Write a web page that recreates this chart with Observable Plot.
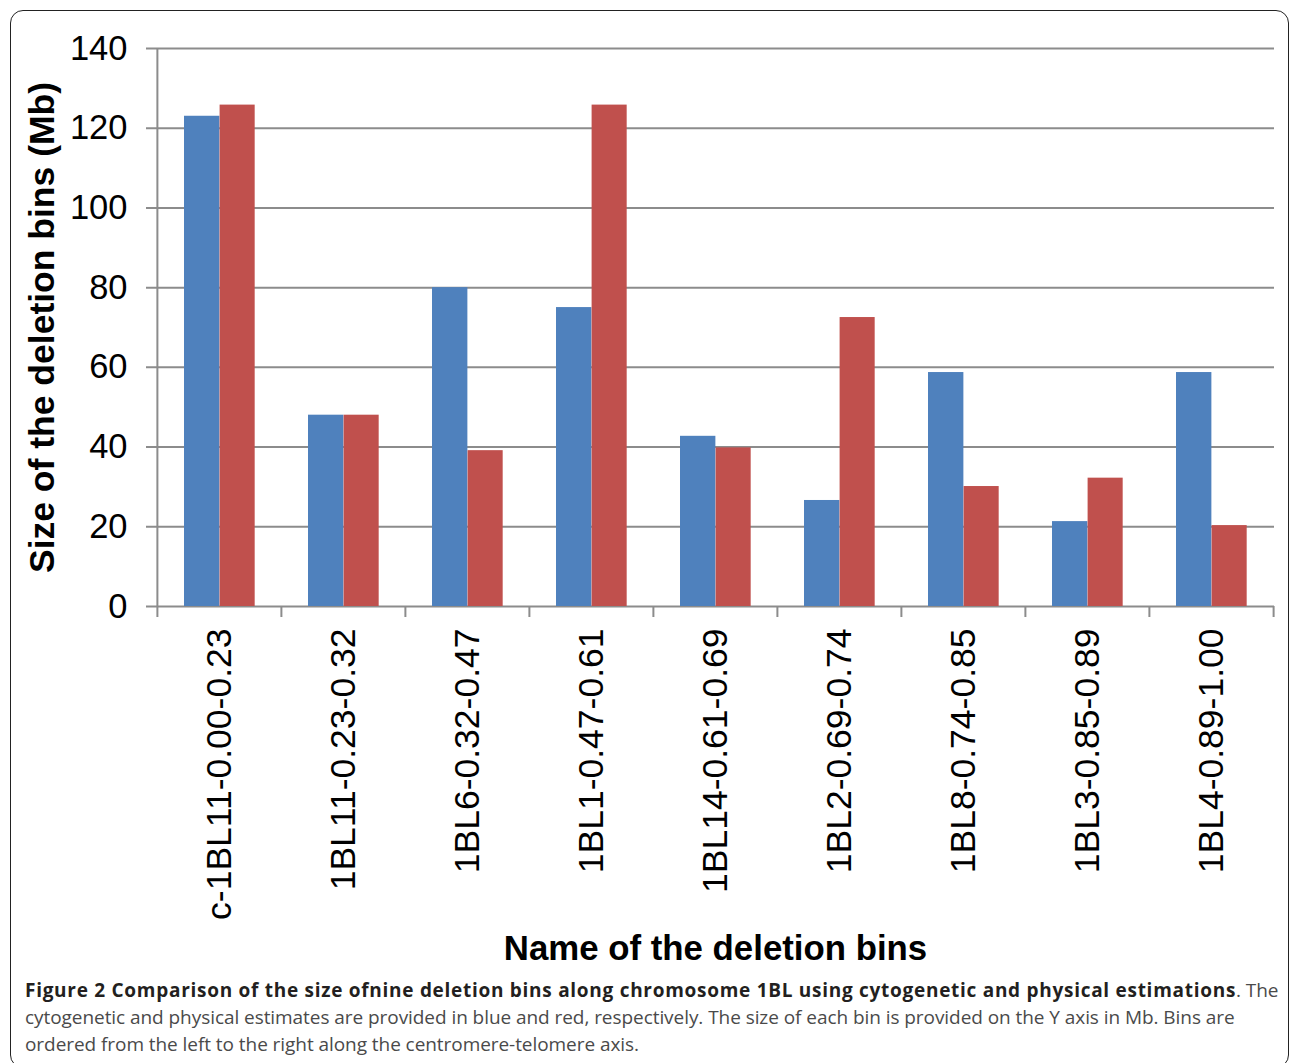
<!DOCTYPE html>
<html>
<head>
<meta charset="utf-8">
<script src="https://cdn.jsdelivr.net/npm/d3@7"></script>
<script src="https://cdn.jsdelivr.net/npm/@observablehq/plot@0.6"></script>
<style>
  html, body { margin: 0; padding: 0; background: #fff; }
  body { width: 1290px; height: 1063px; position: relative; overflow: hidden; }
  #frame { position: absolute; left: 10px; top: 10px; width: 1279px; height: 1058px;
           border: 1.5px solid #222; border-radius: 13px; box-sizing: border-box; }
  #chart { position: absolute; left: 0; top: 0; }
  #caption { position: absolute; left: 25px; top: 977px; font-family: "Open Sans", sans-serif;
             font-size: 19px; line-height: 27px; color: #4a4a4a; white-space: nowrap; letter-spacing: -0.06px; }
  #caption b { color: #231f20; font-weight: 700; letter-spacing: 0.72px; }
</style>
</head>
<body>
<div id="frame"></div>
<div id="chart"></div>
<div id="caption">
  <div><b>Figure 2 Comparison of the size ofnine deletion bins along chromosome 1BL using cytogenetic and physical estimations</b>. The</div>
  <div>cytogenetic and physical estimates are provided in blue and red, respectively. The size of each bin is provided on the Y axis in Mb. Bins are</div>
  <div>ordered from the left to the right along the centromere-telomere axis.</div>
</div>
<script>
const categories = ["c-1BL11-0.00-0.23", "1BL11-0.23-0.32", "1BL6-0.32-0.47", "1BL1-0.47-0.61",
  "1BL14-0.61-0.69", "1BL2-0.69-0.74", "1BL8-0.74-0.85", "1BL3-0.85-0.89", "1BL4-0.89-1.00"];
const cytogenetic = [123, 48, 80, 75, 42.7, 26.6, 58.7, 21.3, 58.7];
const physical = [125.8, 48, 39.1, 125.8, 39.8, 72.5, 30.1, 32.2, 20.3];
const yTicks = [0, 20, 40, 60, 80, 100, 120, 140];
const xTitle = "Name of the deletion bins";
const yTitle = "Size of the deletion bins (Mb)";

const rows = categories.map((c, i) => ({category: c, cyto: cytogenetic[i], phys: physical[i]}));

const W = 1290, H = 975, ML = 156, MR = 16, MT = 48, MB = H - 606;
const step = (W - ML - MR) / categories.length;
const gridColor = "#8c8c8c";
const blue = "#4f81bd", red = "#c0504d";
const font = "'Liberation Sans', Arial, sans-serif";

const chart = Plot.plot({
  width: W, height: H,
  marginLeft: ML, marginRight: MR, marginTop: MT, marginBottom: MB,
  style: {fontFamily: font, background: "transparent", color: "#000", overflow: "visible"},
  x: {domain: categories, padding: 0},
  y: {domain: [0, 140]},
  marks: [
    Plot.ruleY(yTicks, {stroke: gridColor, strokeWidth: 2, insetLeft: -10}),
    Plot.ruleX([categories[0]], {x: d => d, dx: -step / 2, y1: 0, y2: 140, stroke: gridColor, strokeWidth: 2}),
    Plot.ruleX(categories, {x: d => d, dx: -step / 2, y1: 0, y2: 0, insetBottom: -11, stroke: gridColor, strokeWidth: 2}),
    Plot.ruleX([categories[categories.length - 1]], {x: d => d, dx: step / 2, y1: 0, y2: 0, insetBottom: -11, stroke: gridColor, strokeWidth: 2}),
    Plot.barY(rows, {x: "category", y: "cyto", fill: blue, insetLeft: 27, insetRight: step - 62.6}),
    Plot.barY(rows, {x: "category", y: "phys", fill: red, insetLeft: 62.6, insetRight: step - 97.9}),
    Plot.axisY({ticks: yTicks, tickSize: 0, tickPadding: 29, fontSize: 34.5, label: null, fill: "#000"}),
    Plot.axisX({tickSize: 0, tickRotate: -90, tickPadding: 22, fontSize: 35.5, label: null, fill: "#000"}),
    Plot.text([xTitle], {frameAnchor: "bottom", dy: 342, fontSize: 34.8, fontWeight: "bold", fill: "#000", lineAnchor: "middle", textAnchor: "middle"}),
    Plot.text([yTitle], {frameAnchor: "left", dx: -114, rotate: -90, fontSize: 35.5, fontWeight: "bold", fill: "#000", lineAnchor: "middle", textAnchor: "middle"})
  ]
});
document.getElementById("chart").appendChild(chart);
</script>
</body>
</html>
